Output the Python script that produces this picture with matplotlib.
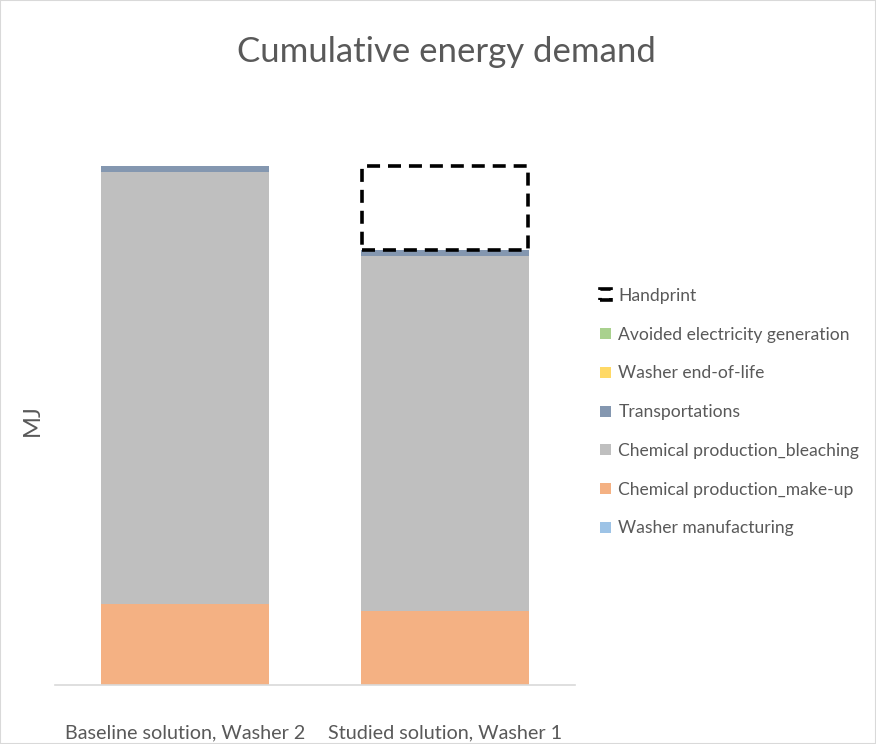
import matplotlib
matplotlib.use("Agg")
import matplotlib.pyplot as plt
from matplotlib.patches import Rectangle
import numpy as np

plt.rcParams['font.family'] = ['Lato', 'DejaVu Sans']

categories = ["Baseline solution, Washer 2", "Studied solution, Washer 1"]
washer_manufacturing = [0, 0]
chem_makeup = [81, 74]
chem_bleaching = [432, 355]
transportations = [6, 6]
washer_eol = [0, 0]
avoided_electricity = [0, 0]
handprint = [0, 84]

series = [
    ("Washer manufacturing", washer_manufacturing, "#9DC3E6"),
    ("Chemical production_make-up", chem_makeup, "#F4B183"),
    ("Chemical production_bleaching", chem_bleaching, "#BFBFBF"),
    ("Transportations", transportations, "#8497B0"),
    ("Washer end-of-life", washer_eol, "#FFD966"),
    ("Avoided electricity generation", avoided_electricity, "#A9D18E"),
]

W, H = 876, 744
fig = plt.figure(figsize=(W / 100, H / 100), dpi=100)
fig.patches.append(Rectangle((0, 0), 1, 1, transform=fig.transFigure, fill=False,
                             edgecolor="#D9D9D9", linewidth=1.5))
ax = fig.add_axes([55 / W, 1 - 685 / H, 520 / W, 560 / H])

x = np.arange(len(categories))
width = 0.646
bottom = np.zeros(len(categories))
handles = {}
for name, vals, color in series:
    v = np.array(vals, dtype=float)
    b = ax.bar(x, v, width, bottom=bottom, color=color, linewidth=0, label=name)
    handles[name] = b
    bottom += v

hp = np.array(handprint, dtype=float)
hb = ax.bar(x, hp, width - 0.01, bottom=bottom, fill=False, edgecolor="black",
            linewidth=2.6, linestyle=(0, (3.6, 2.2)), label="Handprint")
for patch, val in zip(hb.patches, hp):
    if val == 0:
        patch.set_visible(False)

ax.set_xlim(-0.5, 1.5)
ax.set_ylim(0, 560)
ax.set_xticks(x)
ax.set_xticklabels(categories, fontsize=14.2, color="#595959")
ax.tick_params(axis="x", length=0, pad=28)
ax.set_yticks([])
for s in ["top", "right", "left"]:
    ax.spines[s].set_visible(False)
ax.spines["bottom"].set_color("#D9D9D9")
ax.spines["bottom"].set_linewidth(1.2)

fig.text(32 / W, 1 - 420 / H, "MJ", rotation=90, fontsize=17, color="#595959",
         ha="center", va="center")
fig.text(446 / W, 1 - 52 / H, "Cumulative energy demand", fontsize=25,
         color="#595959", ha="center", va="center")

hp_handle = Rectangle((0, 0), 1, 1, fill=False, edgecolor="black", linewidth=2.6,
                      linestyle=(0, (3.6, 2.2)))
order = ["Avoided electricity generation", "Washer end-of-life", "Transportations",
         "Chemical production_bleaching", "Chemical production_make-up",
         "Washer manufacturing"]
leg_handles = [hp_handle] + [handles[n] for n in order]
leg_labels = ["Handprint"] + order
leg = fig.legend(leg_handles, leg_labels, loc="upper left",
                 bbox_to_anchor=(600 / W, 1 - 288 / H), frameon=False,
                 fontsize=12.6, labelcolor="#595959", handlelength=0.6,
                 handleheight=0.6, handletextpad=0.45, labelspacing=1.3,
                 borderpad=0, borderaxespad=0)

fig.savefig("out.png", dpi=100)
